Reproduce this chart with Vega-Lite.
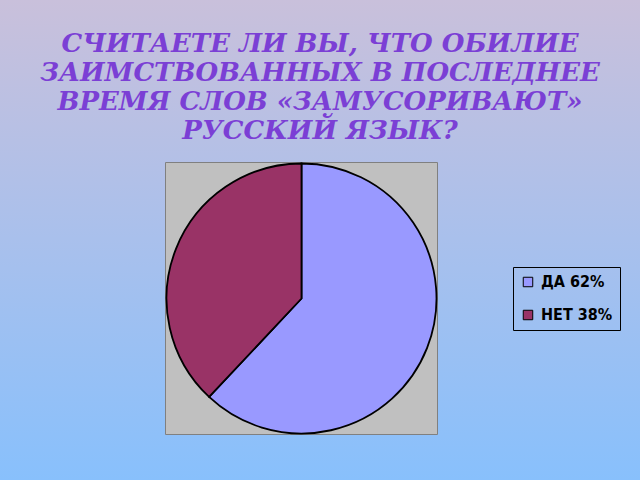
{
  "$schema": "https://vega.github.io/schema/vega-lite/v6.json",
  "width": 677,
  "height": 597,
  "autosize": {"type": "none"},
  "padding": {"left": -37, "top": 0, "right": 0, "bottom": -117},
  "background": "#C9C0DB",
  "title": {
    "text": ["СЧИТАЕТЕ ЛИ ВЫ, ЧТО ОБИЛИЕ", "ЗАИМСТВОВАННЫХ В ПОСЛЕДНЕЕ", "ВРЕМЯ СЛОВ «ЗАМУСОРИВАЮТ»", "РУССКИЙ ЯЗЫК?"],
    "orient": "top",
    "anchor": "middle",
    "frame": "group",
    "baseline": "top",
    "offset": -144,
    "dx": 18.5,
    "font": "DejaVu Serif",
    "fontStyle": "italic",
    "fontWeight": "bold",
    "fontSize": 26,
    "lineHeight": 29,
    "color": "#7B3FD5",
    "zindex": 1
  },
  "config": {
    "view": {"stroke": null},
    "legend": {
      "orient": "none",
      "legendX": 550,
      "legendY": 267,
      "title": null,
      "strokeColor": "#000000",
      "padding": 7,
      "symbolType": "square",
      "symbolSize": 90,
      "symbolStrokeColor": "#000000",
      "symbolStrokeWidth": 1,
      "labelFont": "Liberation Sans Narrow, DejaVu Sans Condensed, Liberation Sans",
      "labelFontSize": 16,
      "labelFontWeight": "bold",
      "labelColor": "#000000",
      "labelOffset": 5,
      "rowPadding": 17
    }
  },
  "layer": [
    {
      "data": {"values": [{"panel": "background"}]},
      "mark": {
        "type": "rect",
        "fill": {
          "gradient": "linear",
          "x1": 0, "y1": 0, "x2": 0, "y2": 1,
          "stops": [
            {"offset": 0, "color": "#C9C0DB"},
            {"offset": 0.4, "color": "#A9C0EC"},
            {"offset": 0.804, "color": "#88C0FC"},
            {"offset": 1, "color": "#88C0FC"}
          ]
        }
      },
      "encoding": {}
    },
    {
      "data": {"values": [{"panel": "plot"}]},
      "mark": {"type": "point", "shape": "square", "filled": true, "size": 73984, "fill": "#C0C0C0", "stroke": "#808080", "strokeWidth": 1, "opacity": 1},
      "encoding": {}
    },
    {
      "data": {"values": [
        {"label": "ДА 62%", "value": 62},
        {"label": "НЕТ 38%", "value": 38}
      ]},
      "mark": {"type": "arc", "outerRadius": 135, "stroke": "#000000", "strokeWidth": 1.8},
      "encoding": {
        "theta": {"field": "value", "type": "quantitative", "stack": true},
        "color": {
          "field": "label",
          "type": "nominal",
          "scale": {"domain": ["ДА 62%", "НЕТ 38%"], "range": ["#9999FF", "#993366"]}
        }
      }
    }
  ]
}
